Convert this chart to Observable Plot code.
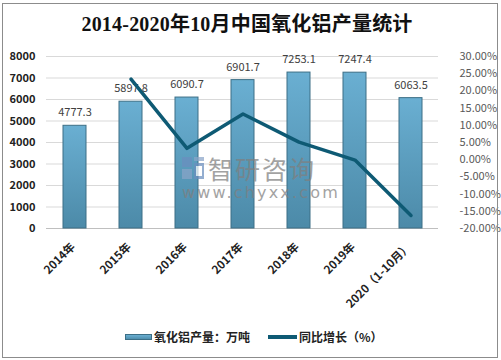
<!DOCTYPE html>
<html><head><meta charset="utf-8">
<script src="https://cdn.jsdelivr.net/npm/d3@7"></script>
<script src="https://cdn.jsdelivr.net/npm/@observablehq/plot@0.6"></script>
<style>
body{margin:0;background:#fff;}
#wrap{position:relative;width:501px;height:360px;overflow:hidden;font-family:"Noto Sans CJK SC","Liberation Sans",sans-serif;}
#frame{position:absolute;left:2px;top:3px;width:494px;height:353px;border:1px solid #8c8c8c;pointer-events:none;}
#title{position:absolute;left:0;top:8px;width:494px;text-align:center;font-family:"Liberation Serif","Noto Sans CJK SC",serif;font-size:20px;font-weight:bold;color:#111;letter-spacing:0.2px;}
#chart{position:absolute;left:0;top:0;}
.leg{position:absolute;top:328px;font-size:12px;font-weight:bold;color:#222;line-height:18px;}
.sw{position:absolute;}
#wm{position:absolute;left:182px;top:154px;opacity:0.72;}
#wm .t1{position:absolute;left:26px;top:1px;font-size:25px;line-height:26px;letter-spacing:2px;color:#7f7f7f;white-space:nowrap;}
#wm .t2{position:absolute;left:0px;top:31px;font-size:16px;line-height:16px;letter-spacing:2.2px;color:#7f7f7f;white-space:nowrap;font-family:"DejaVu Sans",sans-serif;}
</style></head><body>
<div id="wrap">
  <div id="chart"></div>
  <div id="title">2014-2020年10月中国氧化铝产量统计</div>
  <div id="wm">
    <svg width="24" height="24" style="position:absolute;left:0;top:3px">
      <rect x="0" y="0" width="10" height="10" fill="#6b8fbf"/>
      <rect x="12" y="0" width="10" height="4" fill="#8aa5c8"/>
      <rect x="0" y="12" width="10" height="10" fill="#8aa5c8"/>
      <rect x="12" y="6" width="10" height="16" fill="#6b8fbf"/>
      <rect x="14" y="9" width="6" height="10" fill="#fff"/>
    </svg>
    <div class="t1">智研咨询</div>
    <div class="t2">www.chyxx.com</div>
  </div>
  <div class="sw" style="left:125px;top:334px;width:27px;height:6px;background:linear-gradient(#6aafd2,#4f8fae);border:1px solid #3c6f86;box-sizing:border-box;"></div>
  <div class="leg" style="left:154px;">氧化铝产量：万吨</div>
  <div class="sw" style="left:268px;top:335px;width:29px;height:3.5px;background:#0e5a74;"></div>
  <div class="leg" style="left:299px;">同比增长（%）</div>
  <div id="frame"></div>
</div>
<script>
const years = ["2014年","2015年","2016年","2017年","2018年","2019年","2020（1-10月）"];
const output = [4777.3, 5897.8, 6090.7, 6901.7, 7253.1, 7247.4, 6063.5];
const growth = [null, 23.4, 3.3, 13.3, 5.1, -0.1, -16.2];
const leftTicks = [0,1000,2000,3000,4000,5000,6000,7000,8000];
const pctTicks = [-20,-15,-10,-5,0,5,10,15,20,25,30];

const toLeft = p => (p + 20) * 160;
const rows = years.map((y, i) => ({year: y, value: output[i], growth: growth[i]}));
const lineRows = rows.filter(d => d.growth != null);

const chart = Plot.plot({
  width: 501, height: 360,
  marginLeft: 46, marginRight: 63, marginTop: 56, marginBottom: 132,
  style: {fontFamily: '"Noto Sans CJK SC","Liberation Sans",sans-serif', background: "transparent", overflow: "visible"},
  x: {domain: years, paddingInner: 0.59, paddingOuter: 0.295, axis: null},
  y: {domain: [0, 8000], axis: null},
  marks: [
    Plot.gridY(leftTicks, {stroke: "#d9d9d9", strokeOpacity: 1}),
    Plot.ruleY([0], {stroke: "#bfbfbf"}),
    Plot.barY(rows, {x: "year", y: "value", fill: "url(#barGrad)", stroke: "#3c6f86", strokeWidth: 1}),
    Plot.text(rows, {x: "year", y: "value", text: d => d.value.toFixed(1), dy: -13, fontSize: 11, fill: "#404040"}),
    Plot.line(lineRows, {x: "year", y: d => toLeft(d.growth), stroke: "#0e5a74", strokeWidth: 3.5, strokeLinejoin: "round"}),
    Plot.axisY(leftTicks, {anchor: "left", label: null, tickSize: 0, tickPadding: 11, fontSize: 11, fontWeight: "bold", fill: "#222", tickFormat: d => String(d)}),
    Plot.axisY(pctTicks.map(toLeft), {anchor: "right", label: null, tickSize: 0, tickPadding: 21, fontSize: 11, fill: "#595959", textAnchor: "start", tickFormat: v => (v / 160 - 20).toFixed(2) + "%"}),
    Plot.text(rows, {x: "year", frameAnchor: "bottom", text: "year", rotate: -45, textAnchor: "end", dy: 19, dx: 1, fontSize: 11.5, fontWeight: "bold", fill: "#222"})
  ]
});
const defs = d3.select(chart).insert("defs", ":first-child");
const g = defs.append("linearGradient").attr("id", "barGrad").attr("x1", 0).attr("y1", 0).attr("x2", 0).attr("y2", 1);
g.append("stop").attr("offset", "0%").attr("stop-color", "#6aafd2");
g.append("stop").attr("offset", "100%").attr("stop-color", "#4c8aa8");
document.getElementById("chart").appendChild(chart);
</script>
</body></html>
